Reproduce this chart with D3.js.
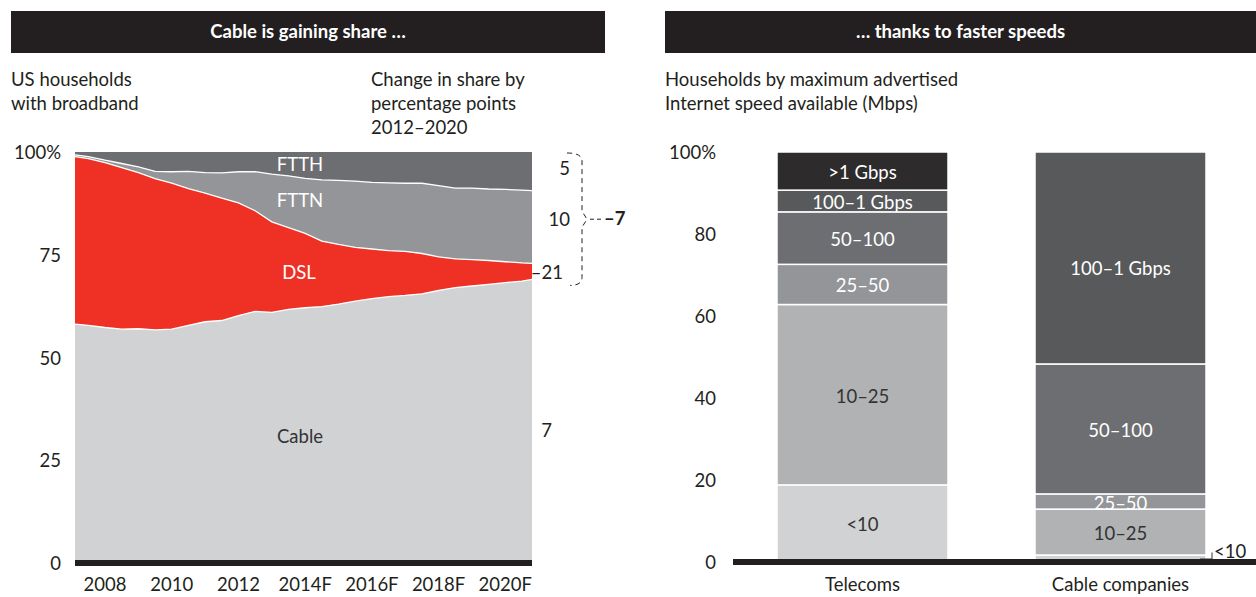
<!DOCTYPE html>
<html><head><meta charset="utf-8">
<script src="https://cdn.jsdelivr.net/npm/d3@7"></script>
<style>
body{margin:0;background:#fff;}
svg text{font-family:"Lato","Noto Sans",sans-serif;}
</style></head>
<body><svg id="c" width="1256" height="597"></svg>
<script>
// ---- Left chart data (share of US broadband households, %) ----
const years = [2007.1,2007.5,2008,2008.5,2009,2009.5,2010,2010.5,2011,2011.5,2012,2012.5,2013,2013.5,2014,2014.5,2015,2015.5,2016,2016.5,2017,2017.5,2018,2018.5,2019,2019.5,2020,2020.5,2020.8];
const cable = [58.1,57.8,57.3,56.9,57.0,56.7,56.9,57.8,58.7,59.0,60.2,61.2,61.0,61.7,62.1,62.4,63.0,63.7,64.3,64.8,65.1,65.5,66.3,67.0,67.4,67.8,68.2,68.6,69.0];
const dsl   = [40.8,40.6,40.1,39.3,38.0,36.8,35.5,33.3,31.3,29.8,27.4,24.5,22.0,19.9,18.1,15.9,14.5,13.1,12.1,11.2,10.7,9.8,8.2,7.0,6.4,5.8,5.1,4.4,3.9];
const fttn  = [0.4,0.5,0.6,1.0,1.4,1.8,2.8,4.2,5.0,6.1,7.6,9.5,11.6,12.6,13.4,14.9,15.6,16.1,16.2,16.5,16.6,17.1,17.3,17.2,17.4,17.4,17.6,17.7,17.7];
const ftth  = [0.7,1.1,2.0,2.8,3.6,4.7,4.8,4.7,5.0,5.1,4.8,4.8,5.4,5.8,6.4,6.8,6.9,7.1,7.4,7.5,7.6,7.6,8.2,8.8,8.8,9.0,9.1,9.3,9.4];
const seriesKeys = ["Cable","DSL","FTTN","FTTH"];
const xTickYears = [2008,2010,2012,2014,2016,2018,2020];
const xTickLabels = ["2008","2010","2012","2014F","2016F","2018F","2020F"];
const leftYTicks = [0,25,50,75,100];
const leftYLabels = ["0","25","50","75","100%"];
const changeLabels = ["7","–21","10","5"]; // Cable, DSL, FTTN, FTTH
const totalChange = "–7";

// ---- Right chart data (% of households by max advertised speed) ----
const providers = ["Telecoms","Cable companies"];
const speedTiers = ["<10","10–25","25–50","50–100","100–1 Gbps",">1 Gbps"];
const telecoms = [18.8,44.0,9.8,12.8,5.3,9.3];
const cableCos = [1.7,11.2,3.7,31.7,51.7,0];
const rightYTicks = [0,20,40,60,80,100];
const rightYLabels = ["0","20","40","60","80","100%"];

const svg = d3.select("#c");
const dark="#231f20", txt="#333";
const FS = 18.5;

// headers
function header(x0,x1,label){
  svg.append("rect").attr("x",x0).attr("y",11).attr("width",x1-x0).attr("height",42).attr("fill",dark);
  svg.append("text").attr("x",(x0+x1)/2).attr("y",38).attr("text-anchor","middle").attr("fill","#fff")
    .attr("font-size",18.5).attr("font-weight","bold").text(label);
}
header(11,605,"Cable is gaining share …");
header(665,1256,"… thanks to faster speeds");

function multiline(x,y,lines){
  const t=svg.append("text").attr("x",x).attr("y",y).attr("font-size",FS).attr("fill",dark);
  lines.forEach((l,i)=>t.append("tspan").attr("x",x).attr("dy",i?24:0).text(l));
}
multiline(11,86,["US households","with broadband"]);
multiline(371,86,["Change in share by","percentage points","2012–2020"]);
multiline(665,86,["Households by maximum advertised","Internet speed available (Mbps)"]);

// ---- Left stacked area ----
const x = d3.scaleLinear().domain([years[0],years[years.length-1]]).range([75,532]);
const y = d3.scaleLinear().domain([0,100]).range([563,152]);
const rows = years.map((yr,i)=>({year:yr,Cable:cable[i],DSL:dsl[i],FTTN:fttn[i],FTTH:ftth[i]}));
const stacked = d3.stack().keys(seriesKeys)(rows);
const fills = {Cable:"#d1d2d4",DSL:"#ee3124",FTTN:"#939598",FTTH:"#6d6e71"};
const area = d3.area().x(d=>x(d.data.year)).y0(d=>y(d[0])).y1(d=>y(d[1]));
svg.append("g").selectAll("path").data(stacked).join("path")
  .attr("d",area).attr("fill",d=>fills[d.key]);
const line = d3.line().x(d=>x(d.data.year)).y(d=>y(d[1]));
svg.append("g").selectAll("path").data(stacked.slice(0,3)).join("path")
  .attr("d",line).attr("fill","none").attr("stroke","#fff").attr("stroke-width",1.3);

// area labels
const last = rows.length-1;
const lblPos = {Cable:[300,443,txt],DSL:[299,279,"#fff"],FTTN:[300,207,"#fff"],FTTH:[300,171,"#fff"]};
seriesKeys.forEach(k=>{
  const p=lblPos[k];
  svg.append("text").attr("x",p[0]).attr("y",p[1]).attr("text-anchor","middle").attr("font-size",FS).attr("fill",p[2]).text(k);
});

// baseline
svg.append("rect").attr("x",x.range()[0]).attr("y",y(0)-3).attr("width",x.range()[1]-x.range()[0]).attr("height",6).attr("fill",dark);

// y ticks
svg.append("g").selectAll("text").data(leftYTicks).join("text")
  .attr("x",61).attr("y",d=>y(d)+7).attr("text-anchor","end").attr("font-size",FS).attr("fill",dark)
  .text((d,i)=>leftYLabels[i]);
// x ticks
svg.append("g").selectAll("text").data(xTickYears).join("text")
  .attr("x",d=>x(d)).attr("y",591).attr("text-anchor","middle").attr("font-size",FS).attr("fill",dark)
  .text((d,i)=>xTickLabels[i]);

// change annotations
const mids = stacked.map(s=>(s[last][0]+s[last][1])/2);
const annAdj = [[552,9,-9],[563,1,0],[570,-8,0],[570,-3,0]];
stacked.forEach((s,i)=>{
  const a=annAdj[i];
  svg.append("text").attr("x",a[0]).attr("y",y(mids[i])+7+a[1]).attr("text-anchor","end")
    .attr("font-size",FS).attr("fill",dark).text(changeLabels[i]);
});
// bracket
const bt=y(100)+1, bb=y(stacked[1][last][0])+6;
const bm=(bt+bb)/2;
svg.append("path").attr("d",`M567,${bt} Q582,${bt} 582,${bt+8} L582,${bm-8} L587,${bm} L582,${bm+8} L582,${bb-8} Q582,${bb} 570,${bb}`)
  .attr("fill","none").attr("stroke",dark).attr("stroke-width",1).attr("stroke-dasharray","5,4");
svg.append("line").attr("x1",590).attr("x2",603).attr("y1",bm).attr("y2",bm).attr("stroke",dark).attr("stroke-dasharray","4,3");
svg.append("text").attr("x",604).attr("y",bm+6).attr("font-size",FS).attr("font-weight","bold").attr("fill",dark).text(totalChange);

// ---- Right stacked bars ----
const yb = d3.scaleLinear().domain([0,100]).range([562,152]);
const barData = [telecoms,cableCos];
const tierFill = ["#d1d2d4","#b1b2b4","#939598","#6d6e71","#58595b","#2d2b2c"];
const tierText = [txt,txt,"#fff","#fff","#fff","#fff"];
const bw = 171;
barData.forEach((vals,bi)=>{
  const bx = [777,1035][bi];
  let acc=0;
  vals.forEach((v,ti)=>{
    if(v<=0) return;
    const y0=yb(acc), y1=yb(acc+v);
    svg.append("rect").attr("x",bx).attr("y",y1).attr("width",bw).attr("height",y0-y1)
      .attr("fill",tierFill[ti]).attr("stroke","#fff").attr("stroke-width",1.5);
    if(v>3){
      const extra = (v>40 && bi===1) ? 9 : 0;
      svg.append("text").attr("x",bx+bw/2).attr("y",(y0+y1)/2+8+extra).attr("text-anchor","middle")
        .attr("font-size",FS).attr("fill",tierText[ti]).text(speedTiers[ti]);
    }
    acc+=v;
  });
  svg.append("text").attr("x",bx+bw/2).attr("y",591).attr("text-anchor","middle").attr("font-size",FS).attr("fill",dark).text(providers[bi]);
});
// <10 callout for cable
{
  const yy = yb(cableCos[0]/2);
  svg.append("path").attr("d",`M1200,${yy+0.5} L1212,${yy+0.5} L1212,${yy-6}`).attr("fill","none").attr("stroke",txt).attr("stroke-width",1);
  svg.append("text").attr("x",1214).attr("y",yy-1).attr("font-size",FS).attr("fill",dark).text(speedTiers[0]);
}
svg.append("rect").attr("x",733).attr("y",yb(0)-3).attr("width",523).attr("height",6).attr("fill",dark);
svg.append("g").selectAll("text").data(rightYTicks).join("text")
  .attr("x",716).attr("y",d=>yb(d)+7).attr("text-anchor","end").attr("font-size",FS).attr("fill",dark)
  .text((d,i)=>rightYLabels[i]);
</script></body></html>
